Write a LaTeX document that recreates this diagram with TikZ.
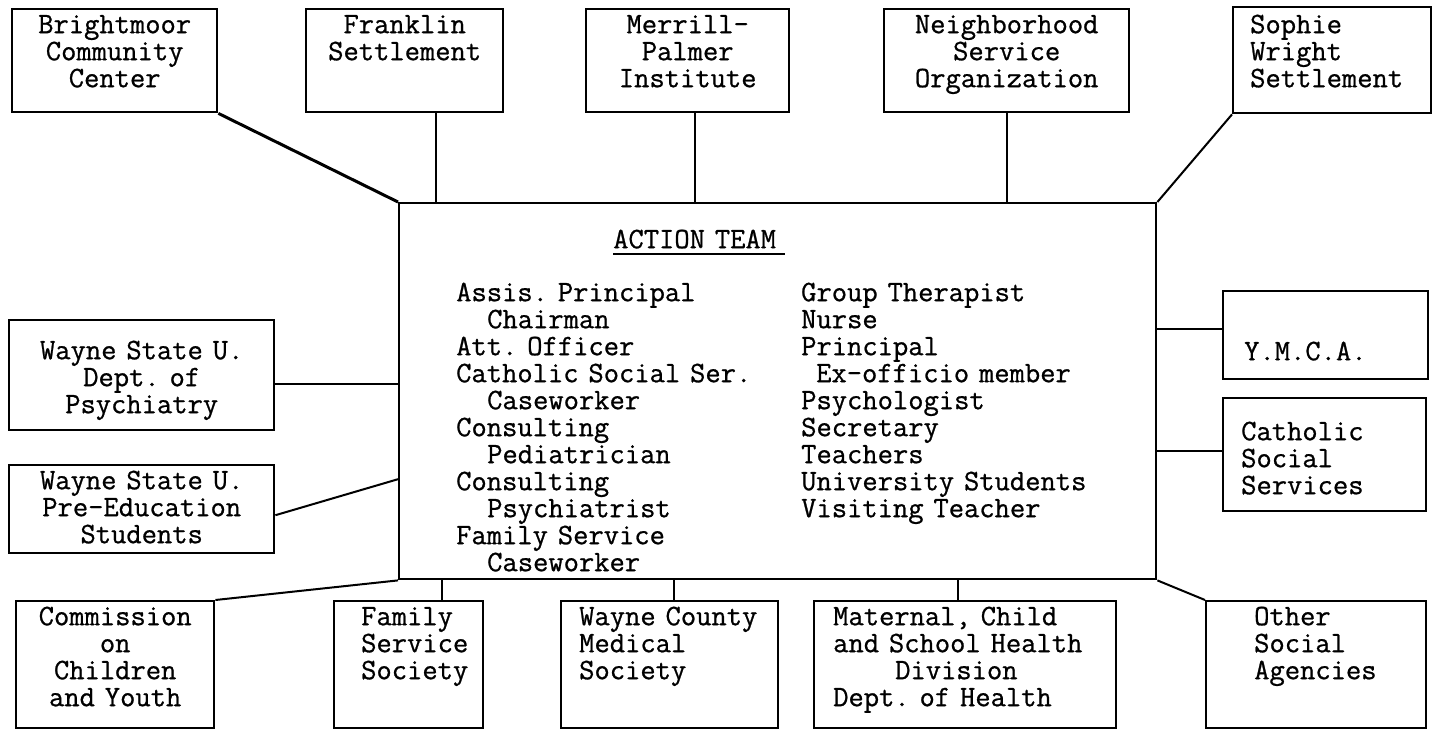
\documentclass[tikz,border=0pt]{standalone}
\usepackage{fontspec}
\setmainfont{Latin Modern Mono}[FakeBold=0.8]
\usepackage{array}
\XeTeXinterwordspaceshaping=0
\newcommand{\typewriter}{\fontsize{29.7}{27}\selectfont\frenchspacing
  \spaceskip=15.6pt plus 0pt minus 0pt\relax\xspaceskip=15.6pt\relax}

\begin{document}
\begin{tikzpicture}[x=1pt, y=-1pt,
  box/.style={draw, line width=2.4pt, anchor=north west, inner ysep=0pt,
    font=\typewriter},
  ctrbox/.style={box, align=center, inner xsep=4pt},
  lftbox/.style={box, align=left},
  link/.style={line width=2pt}]
\useasboundingbox (0,0) rectangle (1435,730);

% the team in the middle
\node[lftbox, inner xsep=57pt, text width=643pt, text height=45pt, text depth=331pt] (team) at (398,202)
  {\hspace*{157pt}\rlap{\rule[-7pt]{172pt}{2.5pt}}ACTION TEAM\\[26pt]
   \begin{tabular}[t]{@{}p{345pt}@{}l@{}}
   Assis. Principal & Group Therapist\\
   \hspace*{31pt}Chairman & Nurse\\
   Att. Officer & Principal\\
   Catholic Social Ser. & \hspace*{15pt}Ex-officio member\\
   \hspace*{31pt}Caseworker & Psychologist\\
   Consulting & Secretary\\
   \hspace*{31pt}Pediatrician & Teachers\\
   Consulting & University Students\\
   \hspace*{31pt}Psychiatrist & Visiting Teacher\\
   Family Service & \\
   \hspace*{31pt}Caseworker & \\
   \end{tabular}};

% top row
\node[ctrbox, text width=197pt, text height=24pt, text depth=79pt] (bright) at (11,8) {Brightmoor\\Community\\Center};
\node[ctrbox, text width=189pt, text height=24pt, text depth=79pt] (frank) at (305,8) {Franklin\\Settlement};
\node[ctrbox, text width=195pt, text height=24pt, text depth=79pt] (merrill) at (585,8) {Merrill-\\Palmer\\Institute};
\node[ctrbox, text width=237pt, text height=24pt, text depth=79pt] (neigh) at (883,8) {Neighborhood\\Service\\Organization};
\node[lftbox, inner xsep=17pt, text width=164pt, text height=26pt, text depth=80pt] (sophie) at (1232,6) {Sophie\\Wright\\Settlement};

% left side
\node[ctrbox, text width=257pt, text height=39pt, text depth=71pt] (wsupsy) at (8,319) {Wayne State U.\\Dept. of\\Psychiatry};
\node[ctrbox, text width=257pt, text height=24pt, text depth=64pt] (wsuedu) at (8,464) {Wayne State U.\\Pre-Education\\Students};

% right side
\node[lftbox, inner xsep=21pt, text width=163pt, text height=69pt, text depth=19pt] (ymca) at (1222,290) {Y.M.C.A.};
\node[lftbox, inner xsep=18pt, text width=167pt, text height=42pt, text depth=71pt] (cathss) at (1222,397) {Catholic\\Social\\Services};

% bottom row
\node[ctrbox, text width=190pt, text height=24pt, text depth=103pt] (comm) at (15,600) {Commission\\on\\Children\\and Youth};
\node[lftbox, inner xsep=27pt, text width=95pt, text height=24pt, text depth=103pt] (famserv) at (333,600) {Family\\Service\\Society};
\node[lftbox, inner xsep=18pt, text width=181pt, text height=24pt, text depth=103pt] (wcms) at (560,600) {Wayne County\\Medical\\Society};
\node[lftbox, inner xsep=19pt, text width=264pt, text height=24pt, text depth=103pt] (mcsh) at (813,600) {Maternal, Child\\and School Health\\\hspace*{62pt}Division\\Dept. of Health};
\node[lftbox, inner xsep=48pt, text width=124pt, text height=24pt, text depth=103pt] (other) at (1205,600) {Other\\Social\\Agencies};

% connectors
\coordinate (frankend) at ([xshift=31pt]frank.south);
\coordinate (merrillend) at ([xshift=7pt]merrill.south);
\coordinate (psyend) at ([yshift=-9pt]wsupsy.east);
\coordinate (ymcaend) at ([yshift=6pt]ymca.west);
\coordinate (cathend) at ([yshift=4pt]cathss.west);
\coordinate (famend) at ([xshift=33pt]famserv.north);
\coordinate (wcmsend) at ([xshift=4pt]wcms.north);
\coordinate (mcshend) at ([xshift=-7pt]mcsh.north);

\draw[link, line width=3pt] (bright.south east) -- (team.north west);
\draw[link] (frankend) -- (frankend |- team.north);
\draw[link] (merrillend) -- (merrillend |- team.north);
\draw[link] (neigh.south) -- (neigh.south |- team.north);
\draw[link] (sophie.south west) -- (team.north east);
\draw[link] (psyend) -- (psyend -| team.west);
\draw[link] ([yshift=-6pt]wsuedu.east) -- ([yshift=-88pt]team.west);
\draw[link] (ymcaend) -- (ymcaend -| team.east);
\draw[link] (cathend) -- (cathend -| team.east);
\draw[link] (comm.north east) -- (team.south west);
\draw[link] (famend) -- (famend |- team.south);
\draw[link] (wcmsend) -- (wcmsend |- team.south);
\draw[link] (mcshend) -- (mcshend |- team.south);
\draw[link] (team.south east) -- (other.north west);
\end{tikzpicture}
\end{document}
